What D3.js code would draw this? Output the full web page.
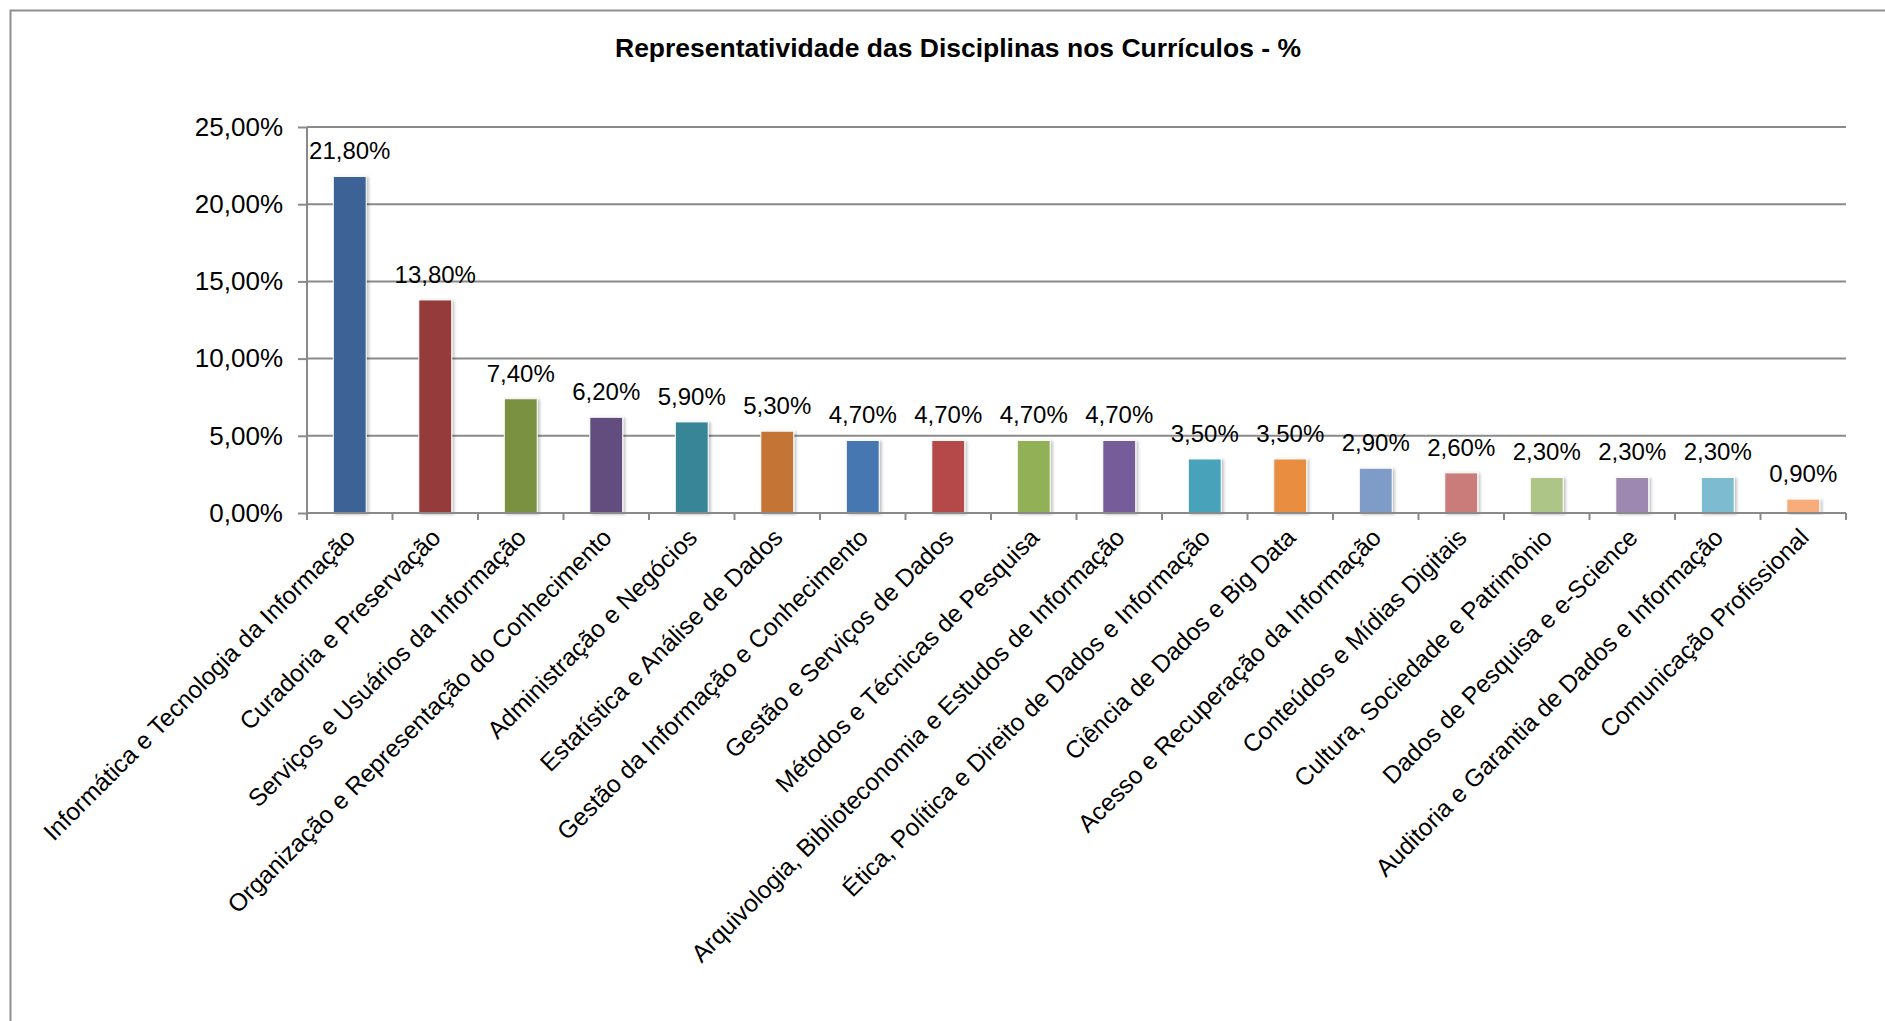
<!DOCTYPE html>
<html>
<head>
<meta charset="utf-8">
<script src="https://cdn.jsdelivr.net/npm/d3@7"></script>
<style>
	body { margin: 0; background: #fff; }
	svg { display: block; font-family: "Liberation Sans", Arial, sans-serif; }
</style>
</head>
<body>
<svg></svg>
<script>
var title = "Representatividade das Disciplinas nos Currículos - %";
var categories = [
	"Informática e Tecnologia da Informação",
	"Curadoria e Preservação",
	"Serviços e Usuários da Informação",
	"Organização e Representação do Conhecimento",
	"Administração e Negócios",
	"Estatística e Análise de Dados",
	"Gestão da Informação e Conhecimento",
	"Gestão e Serviços de Dados",
	"Métodos e Técnicas de Pesquisa",
	"Arquivologia, Biblioteconomia e Estudos de Informação",
	"Ética, Política e Direito de Dados e Informação",
	"Ciência de Dados e Big Data",
	"Acesso e Recuperação da Informação",
	"Conteúdos e Mídias Digitais",
	"Cultura, Sociedade e Patrimônio",
	"Dados de Pesquisa e e-Science",
	"Auditoria e Garantia de Dados e Informação",
	"Comunicação Profissional"
];
var values = [21.8, 13.8, 7.4, 6.2, 5.9, 5.3, 4.7, 4.7, 4.7, 4.7, 3.5, 3.5, 2.9, 2.6, 2.3, 2.3, 2.3, 0.9];
var barColors = ["#3e6496", "#953a3a", "#7a9142", "#624d7e", "#378597", "#c47535",
	"#4777b1", "#b54a48", "#92b055", "#765c99", "#46a2ba", "#e98d41",
	"#7f9cc8", "#c97b7a", "#adc586", "#9c88b1", "#7dbbd0", "#f7ac7a"];
var yTicks = [0, 5, 10, 15, 20, 25];

var width = 1885;
var height = 1021;
var plotLeft = 307, plotRight = 1846, plotTop = 127, plotBottom = 513;
var gridColor = "#8a8a8a";

var locale = d3.formatLocale({decimal: ",", thousands: ".", grouping: [3], currency: ["R$", ""]});
var pct = locale.format(".2%");

function init(){
	var svg = d3.select("svg").attr("width", width).attr("height", height);

	var defs = svg.append("defs");
	var f = defs.append("filter").attr("id", "shadow")
		.attr("x", "-30%").attr("y", "-10%").attr("width", "160%").attr("height", "120%");
	f.append("feDropShadow").attr("dx", 2).attr("dy", 1).attr("stdDeviation", 1.5)
		.attr("flood-color", "#000").attr("flood-opacity", 0.25);

	// chart border (runs off the right and bottom of the picture)
	svg.append("rect")
		.attr("x", 10.5).attr("y", 10.5)
		.attr("width", width + 20).attr("height", height + 20)
		.attr("fill", "none").attr("stroke", "#8f8f8f").attr("stroke-width", 2);

	svg.append("text")
		.attr("transform", "translate(958,57) scale(1.06,1)")
		.attr("text-anchor", "middle")
		.style("font-size", "25px").style("font-weight", "bold")
		.text(title);

	var x = d3.scaleBand().domain(categories).range([plotLeft, plotRight]).paddingInner(0.615).paddingOuter(0.3075);
	var band = (plotRight - plotLeft) / categories.length;
	var y = d3.scaleLinear().domain([0, 25]).range([plotBottom, plotTop]);

	// gridlines
	svg.append("g").selectAll("line").data(yTicks.slice(1))
		.enter().append("line")
		.attr("x1", plotLeft).attr("x2", plotRight)
		.attr("y1", function(d){ return y(d); })
		.attr("y2", function(d){ return y(d); })
		.attr("stroke", gridColor).attr("stroke-width", 2);

	// y axis
	var yAxis = d3.axisLeft(y).tickValues(yTicks).tickSize(9).tickPadding(15)
		.tickFormat(function(d){ return pct(d / 100); });
	var gy = svg.append("g").attr("transform", "translate(" + plotLeft + ",0)").call(yAxis);
	gy.select(".domain").attr("stroke", gridColor).attr("stroke-width", 2)
		.attr("d", "M0," + (plotBottom + 7) + "V" + plotTop);
	gy.selectAll(".tick line").attr("stroke", gridColor).attr("stroke-width", 2);
	gy.selectAll(".tick text").style("font-size", "26px").attr("fill", "#000")
		.attr("font-family", "Liberation Sans, Arial, sans-serif");

	// bars
	svg.append("g").selectAll("rect").data(values)
		.enter().append("rect")
		.attr("x", function(d, i){ return x(categories[i]); })
		.attr("y", function(d){ return y(d); })
		.attr("width", x.bandwidth())
		.attr("height", function(d){ return plotBottom - y(d); })
		.attr("fill", function(d, i){ return barColors[i]; })
		.attr("stroke", "#fff").attr("stroke-width", 1)
		.attr("filter", "url(#shadow)");

	// x axis line and ticks at band edges
	var gx = svg.append("g");
	gx.append("line").attr("x1", plotLeft).attr("x2", plotRight).attr("y1", plotBottom).attr("y2", plotBottom)
		.attr("stroke", gridColor).attr("stroke-width", 2);
	gx.selectAll(".xt").data(d3.range(categories.length + 1))
		.enter().append("line").attr("class", "xt")
		.attr("x1", function(i){ return plotLeft + i * band; })
		.attr("x2", function(i){ return plotLeft + i * band; })
		.attr("y1", plotBottom).attr("y2", plotBottom + 7)
		.attr("stroke", gridColor).attr("stroke-width", 2);

	// data labels
	svg.append("g").selectAll("text").data(values)
		.enter().append("text")
		.attr("x", function(d, i){ return x(categories[i]) + x.bandwidth() / 2; })
		.attr("y", function(d){ return y(d) - 17; })
		.attr("text-anchor", "middle")
		.style("font-size", "24px")
		.text(function(d){ return pct(d / 100); });

	// category labels, rotated
	svg.append("g").selectAll("text").data(categories)
		.enter().append("text")
		.attr("transform", function(d){
			var cx = x(d) + x.bandwidth() / 2 + 7;
			return "translate(" + cx + "," + (plotBottom + 26) + ") rotate(-45)";
		})
		.attr("text-anchor", "end")
		.style("font-size", "24.5px")
		.text(function(d){ return d; });
}

init();
</script>
</body>
</html>
